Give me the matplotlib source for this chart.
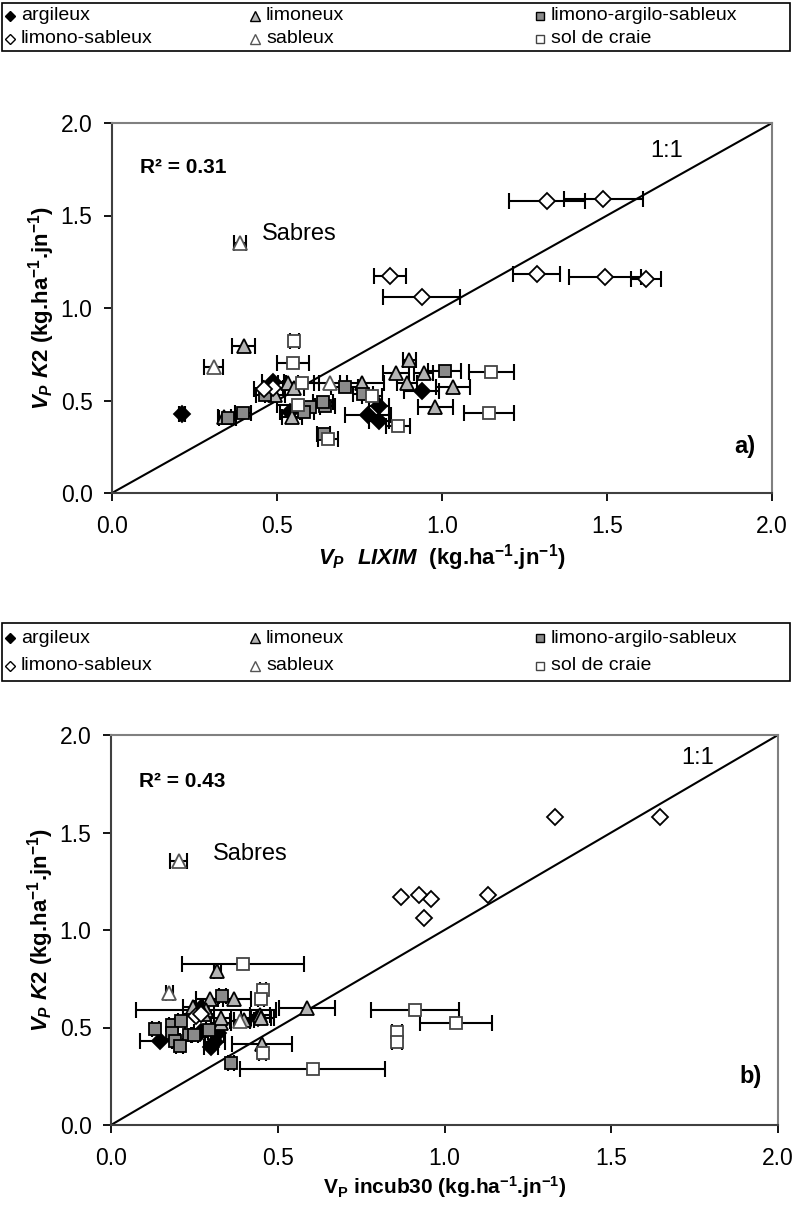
import matplotlib.pyplot as plt
from matplotlib.patches import Rectangle

plt.rcParams['font.family'] = ['Liberation Sans', 'DejaVu Sans']
plt.rcParams['mathtext.fontset'] = 'custom'
plt.rcParams['mathtext.rm'] = 'Liberation Sans:bold'
plt.rcParams['mathtext.bf'] = 'Liberation Sans:bold'
plt.rcParams['mathtext.it'] = 'Liberation Sans:bold:italic'
plt.rcParams['mathtext.default'] = 'bf'

W, H = 792, 1206

classes = ['argileux', 'limoneux', 'limono-argilo-sableux',
           'limono-sableux', 'sableux', 'sol de craie']

# ---- panel a : V_P LIXIM (x) vs V_P K2 (y)
xa_arg = [0.212, 0.488, 0.54, 0.808, 0.776, 0.808, 0.938]
ya_arg = [0.427, 0.602, 0.44, 0.470, 0.422, 0.391, 0.551]
ea_arg = [0.01, 0.033, 0.03, 0.03, 0.07, 0.03, 0.053]

xa_lim = [0.399, 0.533, 0.551, 0.495, 0.758, 0.545, 0.34, 0.901, 0.860, 0.944, 0.893, 1.034, 0.979]
ya_lim = [0.796, 0.596, 0.566, 0.530, 0.593, 0.412, 0.41, 0.719, 0.647, 0.647, 0.596, 0.575, 0.463]
ea_lim = [0.034, 0.03, 0.03, 0.03, 0.066, 0.03, 0.02, 0.02, 0.04, 0.03, 0.03, 0.052, 0.053]

xa_las = [0.351, 0.396, 0.465, 0.705, 0.76, 0.599, 0.646, 0.64, 0.581, 0.641, 1.009]
ya_las = [0.407, 0.434, 0.530, 0.575, 0.535, 0.463, 0.472, 0.49, 0.44, 0.319, 0.661]
ea_las = [0.026, 0.024, 0.03, 0.04, 0.03, 0.03, 0.03, 0.03, 0.03, 0.02, 0.05]

xa_ls = [1.319, 1.489, 0.842, 0.938, 1.287, 1.494, 1.618, 0.488, 0.460]
ya_ls = [1.580, 1.588, 1.172, 1.058, 1.182, 1.169, 1.157, 0.566, 0.561]
ea_ls = [0.115, 0.12, 0.048, 0.116, 0.071, 0.11, 0.045, 0.03, 0.03]

xa_sab = [0.388, 0.308, 0.662]
ya_sab = [1.353, 0.679, 0.593]
ea_sab = [0.018, 0.028, 0.05]

xa_cr = [0.553, 0.548, 0.576, 0.788, 0.564, 0.655, 0.867, 1.15, 1.143]
ya_cr = [0.822, 0.701, 0.593, 0.526, 0.476, 0.292, 0.362, 0.652, 0.434]
ea_cr = [0.015, 0.048, 0.05, 0.03, 0.065, 0.03, 0.036, 0.068, 0.075]

# ---- panel b : V_P incub30 (x) vs V_P K2 (y)
xb_arg = [0.148, 0.27, 0.311, 0.44, 0.27, 0.32, 0.30]
yb_arg = [0.43, 0.477, 0.426, 0.55, 0.60, 0.47, 0.40]
eb_arg = [0.06, 0.02, 0.03, 0.05, 0.02, 0.02, 0.02]

xb_lim = [0.319, 0.296, 0.370, 0.246, 0.286, 0.588, 0.331, 0.448, 0.453, 0.28, 0.40, 0.33, 0.45]
yb_lim = [0.789, 0.648, 0.644, 0.605, 0.592, 0.602, 0.525, 0.566, 0.413, 0.57, 0.54, 0.55, 0.55]
eb_lim = [0.01, 0.04, 0.05, 0.03, 0.21, 0.084, 0.03, 0.03, 0.09, 0.03, 0.03, 0.03, 0.03]

xb_las = [0.334, 0.133, 0.183, 0.211, 0.183, 0.233, 0.295, 0.193, 0.206, 0.36, 0.25]
yb_las = [0.663, 0.494, 0.515, 0.534, 0.471, 0.460, 0.486, 0.431, 0.404, 0.32, 0.46]
eb_las = [0.01, 0.01, 0.01, 0.01, 0.01, 0.01, 0.01, 0.01, 0.01, 0.01, 0.01]

xb_ls = [1.33, 1.645, 0.87, 0.94, 1.13, 0.96, 0.925, 0.255, 0.27]
yb_ls = [1.58, 1.58, 1.17, 1.06, 1.18, 1.16, 1.18, 0.559, 0.57]
eb_ls = [0, 0, 0, 0, 0, 0, 0, 0, 0]

xb_sab = [0.203, 0.175, 0.386]
yb_sab = [1.355, 0.677, 0.532]
eb_sab = [0.025, 0.01, 0.03]

xb_cr = [0.395, 0.456, 0.45, 0.912, 1.034, 0.857, 0.857, 0.605, 0.455]
yb_cr = [0.824, 0.694, 0.644, 0.588, 0.523, 0.477, 0.427, 0.285, 0.37]
eb_cr = [0.183, 0.01, 0.01, 0.131, 0.108, 0.015, 0.015, 0.217, 0.01]

styles = {
    'argileux': dict(marker='D', mfc='black', mec='black', ms=8),
    'limoneux': dict(marker='^', mfc='#b4b4b4', mec='black', ms=10),
    'limono-argilo-sableux': dict(marker='s', mfc='#8a8a8a', mec='black', ms=8),
    'limono-sableux': dict(marker='D', mfc='white', mec='black', ms=8),
    'sableux': dict(marker='^', mfc='white', mec='#555555', ms=10),
    'sol de craie': dict(marker='s', mfc='white', mec='#444444', ms=8),
}

data_a = dict(zip(classes, [(xa_arg, ya_arg, ea_arg), (xa_lim, ya_lim, ea_lim),
                            (xa_las, ya_las, ea_las), (xa_ls, ya_ls, ea_ls),
                            (xa_sab, ya_sab, ea_sab), (xa_cr, ya_cr, ea_cr)]))
data_b = dict(zip(classes, [(xb_arg, yb_arg, eb_arg), (xb_lim, yb_lim, eb_lim),
                            (xb_las, yb_las, eb_las), (xb_ls, yb_ls, eb_ls),
                            (xb_sab, yb_sab, eb_sab), (xb_cr, yb_cr, eb_cr)]))

fig = plt.figure(figsize=(W / 100, H / 100), dpi=100)


def px_axes(left, top, right, bottom):
    return fig.add_axes([left / W, 1 - bottom / H, (right - left) / W, (bottom - top) / H])


def draw_legend(top, bottom):
    lax = px_axes(0, top, W, bottom)
    lax.set_xlim(0, W)
    lax.set_ylim(bottom - top, 0)
    lax.axis('off')
    lax.add_patch(Rectangle((2, 1), W - 4, bottom - top - 2, fill=False,
                            ec='black', lw=1.2, clip_on=False))
    h = bottom - top
    cols = [10, 255, 540]
    rows = [h * 0.27, h * 0.73]
    for i, c in enumerate(classes):
        r = 0 if i < 3 else 1
        col = cols[i % 3]
        st = dict(styles[c])
        st['ms'] = st['ms'] * 0.65
        lax.plot([col], [rows[r]], ls='none', mew=1, clip_on=False, **st)
        lax.text(col + 11, rows[r], c, fontsize=14, va='center', ha='left')


def draw_panel(ax, data, r2, letter, xlabel, xlabel_size):
    ax.plot([0, 2], [0, 2], color='black', lw=1.5, zorder=2)
    for c in classes:
        x, y, e = data[c]
        if any(v > 0 for v in e):
            ax.errorbar(x, y, xerr=e, fmt='none', ecolor='black', elinewidth=1.5,
                        capsize=6, capthick=1.5, zorder=3)
        ax.plot(x, y, ls='none', mew=1.3, zorder=4, **styles[c])
    ax.set_xlim(0, 2)
    ax.set_ylim(0, 2)
    ax.set_xticks([0, 0.5, 1.0, 1.5, 2.0])
    ax.set_yticks([0, 0.5, 1.0, 1.5, 2.0])
    ax.set_xticklabels(['0.0', '0.5', '1.0', '1.5', '2.0'])
    ax.set_yticklabels(['0.0', '0.5', '1.0', '1.5', '2.0'])
    ax.tick_params(axis='x', direction='out', length=6, width=1.3, labelsize=16.5, pad=10)
    ax.tick_params(axis='y', direction='out', length=6, width=1.3, labelsize=16.5, pad=8)
    for s in ['left', 'bottom']:
        ax.spines[s].set_color('#404040')
        ax.spines[s].set_linewidth(1.5)
    for s in ['top', 'right']:
        ax.spines[s].set_color('#808080')
        ax.spines[s].set_linewidth(1.5)
    ax.text(0.085, 1.76, r2, fontsize=15, fontweight='bold', va='center')
    ax.text(1.63, 1.85, '1:1', fontsize=17, va='center')
    ax.text(1.95, 0.25, letter, fontsize=17, fontweight='bold', ha='right', va='center')
    ax.set_xlabel(xlabel, fontsize=xlabel_size, fontweight='bold', labelpad=3)
    ax.set_ylabel(r'$\mathit{V_P\ K2}$ (kg.ha$^{-1}$.jn$^{-1}$)',
                  fontsize=16, fontweight='bold', labelpad=3)


# panel a
draw_legend(2, 52)
ax_a = px_axes(112, 123, 772, 493)
draw_panel(ax_a, data_a, 'R² = 0.31', 'a)',
           r'$\mathit{V_P\ \ LIXIM}$  (kg.ha$^{-1}$.jn$^{-1}$)', 16)
ax_a.text(0.455, 1.40, 'Sabres', fontsize=17, va='center')

# panel b
draw_legend(622, 682)
ax_b = px_axes(111, 735, 778, 1125)
draw_panel(ax_b, data_b, 'R² = 0.43', 'b)',
           r'V$_\mathbf{P}$ incub30 (kg.ha$^{-1}$.jn$^{-1}$)', 15)
ax_b.texts[1].set_position((1.71, 1.88))
ax_b.text(0.305, 1.39, 'Sabres', fontsize=17, va='center')

fig.savefig('out.png', dpi=100)
